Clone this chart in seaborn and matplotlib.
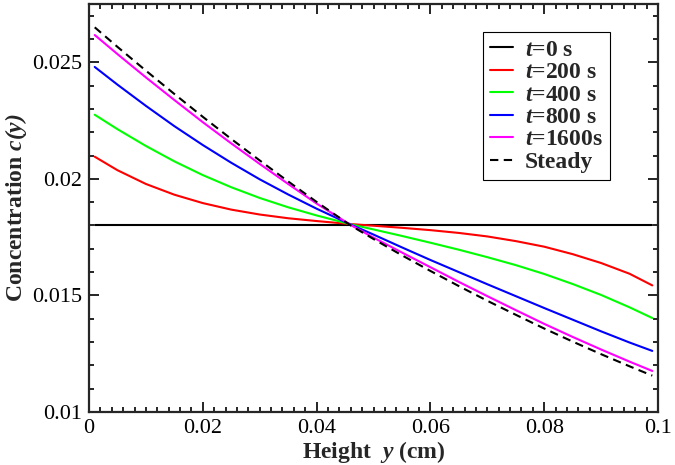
import matplotlib
matplotlib.use('Agg')
import matplotlib.pyplot as plt
import seaborn as sns
import pandas as pd
from matplotlib.ticker import MultipleLocator

height = [0.001, 0.005, 0.01, 0.015, 0.02, 0.025, 0.03, 0.035, 0.04, 0.046,
          0.05, 0.055, 0.06, 0.065, 0.07, 0.075, 0.08, 0.085, 0.09, 0.095, 0.099]

c_t0 = [0.018] * len(height)
c_t200 = [0.02095, 0.02037, 0.01978, 0.01932, 0.01896, 0.01868, 0.01847, 0.01831, 0.01819, 0.01806,
          0.01799, 0.01790, 0.01780, 0.01768, 0.01753, 0.01733, 0.01709, 0.01677, 0.01639, 0.01593, 0.01543]
c_t400 = [0.02275, 0.02213, 0.02141, 0.02075, 0.02016, 0.01964, 0.01918, 0.01878, 0.01843, 0.01805,
          0.01783, 0.01755, 0.01726, 0.01696, 0.01664, 0.01630, 0.01592, 0.01549, 0.01502, 0.01449, 0.01403]
c_t800 = [0.02480, 0.02404, 0.02313, 0.02226, 0.02145, 0.02069, 0.01998, 0.01933, 0.01872, 0.01804,
          0.01761, 0.01706, 0.01652, 0.01600, 0.01548, 0.01497, 0.01446, 0.01396, 0.01346, 0.01298, 0.01262]
c_t1600 = [0.02617, 0.02535, 0.02435, 0.02338, 0.02243, 0.02152, 0.02064, 0.01978, 0.01894, 0.01802,
           0.01748, 0.01684, 0.01621, 0.01558, 0.01497, 0.01437, 0.01378, 0.01322, 0.01268, 0.01216, 0.01176]
c_steady = [0.02650, 0.02566, 0.02464, 0.02364, 0.02266, 0.02171, 0.02079, 0.01989, 0.01901, 0.01800,
            0.01742, 0.01672, 0.01605, 0.01540, 0.01477, 0.01417, 0.01358, 0.01302, 0.01248, 0.01196, 0.01156]

series = [
    (r'$\mathbfit{t}$=0 s', c_t0, 'black', '-'),
    (r'$\mathbfit{t}$=200 s', c_t200, '#ff0000', '-'),
    (r'$\mathbfit{t}$=400 s', c_t400, '#00ff00', '-'),
    (r'$\mathbfit{t}$=800 s', c_t800, '#0000ff', '-'),
    (r'$\mathbfit{t}$=1600s', c_t1600, '#ff00ff', '-'),
    ('Steady', c_steady, 'black', '--'),
]

sns.set_theme(style="ticks")
plt.rcParams.update({
    'font.family': 'Liberation Serif',
    'mathtext.fontset': 'custom',
    'mathtext.rm': 'Liberation Serif',
    'mathtext.it': 'Liberation Serif:italic',
    'mathtext.bf': 'Liberation Serif:bold',
    'mathtext.bfit': 'Liberation Serif:italic:bold',
    'axes.linewidth': 1.6,
})

fig = plt.figure(figsize=(6.75, 4.65), dpi=100)
ax = fig.add_axes([0.1319, 0.114, 0.8429, 0.8774])

for label, vals, color, ls in series:
    df = pd.DataFrame({'y': height, 'c': vals})
    sns.lineplot(data=df, x='y', y='c', color=color, linewidth=1.5,
                 label=label, ax=ax, sort=False)
    if ls == '--':
        ax.lines[-1].set_dashes((4, 2.6))

ax.set_xlim(0, 0.1)
ax.set_ylim(0.01, 0.0275)
ax.xaxis.set_minor_locator(MultipleLocator(0.002))
ax.yaxis.set_minor_locator(MultipleLocator(0.001))
ax.set_xticks([0, 0.02, 0.04, 0.06, 0.08, 0.1])
ax.set_xticklabels(['0', '0.02', '0.04', '0.06', '0.08', '0.1'])
ax.set_yticks([0.01, 0.015, 0.02, 0.025])
ax.set_yticklabels(['0.01', '0.015', '0.02', '0.025'])
ax.tick_params(which='both', direction='in', top=True, right=True,
               labelsize=16, width=1.2, colors='black')
ax.tick_params(which='major', length=7)
ax.tick_params(which='minor', length=3.5)
ax.tick_params(axis='x', pad=5)
ax.tick_params(axis='y', pad=5)

ax.set_xlabel(r'Height  $\mathbfit{y}$ (cm)', fontsize=17, fontweight='bold', labelpad=1)
ax.set_ylabel(r'Concentration $\mathbfit{c(y)}$', fontsize=17, fontweight='bold', labelpad=2)

leg = ax.legend(loc='upper right', bbox_to_anchor=(610 / 675, 1 - 32 / 465),
                bbox_transform=fig.transFigure, borderaxespad=0,
                prop={'family': 'Liberation Serif', 'weight': 'bold', 'size': 17},
                fancybox=False, framealpha=1, edgecolor='black',
                handlelength=1.0, handletextpad=0.5, labelspacing=0.04,
                borderpad=0.3)
leg.get_frame().set_linewidth(0.8)

fig.savefig('out.png', dpi=100)
